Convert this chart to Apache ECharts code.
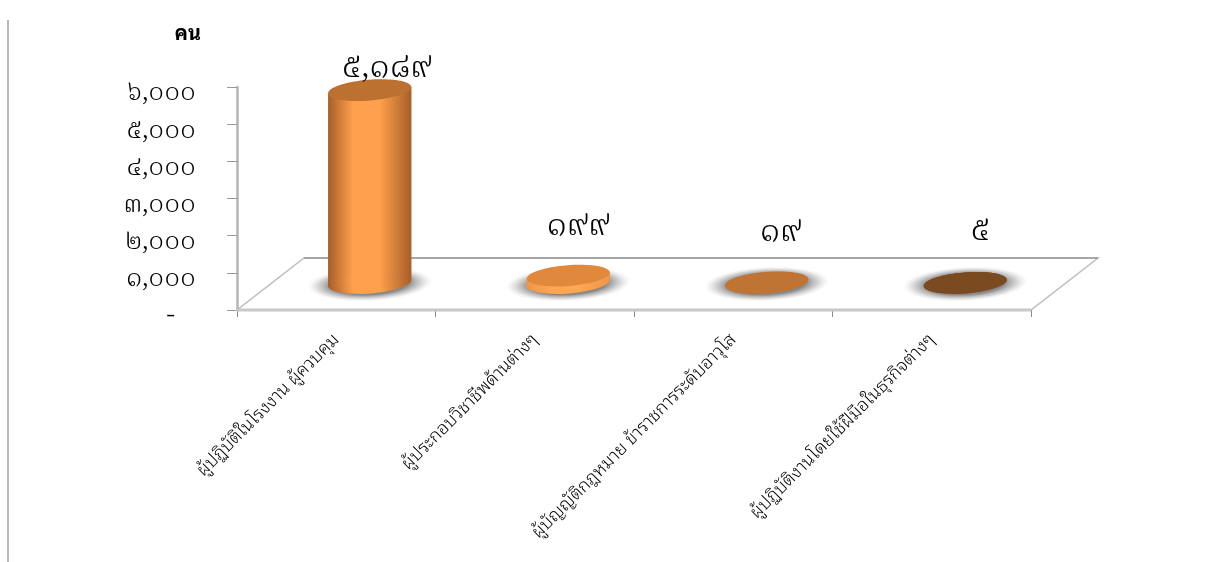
<!DOCTYPE html>
<html><head><meta charset="utf-8">
<style>html,body{margin:0;padding:0;background:#fff}#c{width:1206px;height:562px}</style>
<script src="https://cdn.jsdelivr.net/npm/echarts@6/dist/echarts.min.js"></script>
</head><body><div id="c"></div>
<script>
const categories = [
  'ผู้ปฏิบัติในโรงงาน ผู้ควบคุม',
  'ผู้ประกอบวิชาชีพด้านต่างๆ',
  'ผู้บัญญัติกฎหมาย ข้าราชการระดับอาวุโส',
  'ผู้ปฏิบัติงานโดยใช้ฝีมือในธุรกิจต่างๆ'
];
const workers = [5189, 199, 19, 5];
const yTicks = { 0:'-\u00a0\u00a0\u00a0', 1000:'๑,๐๐๐', 2000:'๒,๐๐๐', 3000:'๓,๐๐๐', 4000:'๔,๐๐๐', 5000:'๕,๐๐๐', 6000:'๖,๐๐๐' };
const valueText = ['๕,๑๘๙', '๑๙๙', '๑๙', '๕'];
const unitName = 'คน';

// appearance of each cylinder: side shading, top-face colour, label nudge
const barLook = [
  { edge:'#a65e28', mid:'#ffa04c', top:'#bd7131', dx:17, lift:19 },
  { edge:'#f09648', mid:'#ffa651', top:'#e0893d', dx:10, lift:46 },
  { edge:'#bf7433', mid:'#bf7433', top:'#bf7433', dx:14, lift:47 },
  { edge:'#7a4a20', mid:'#7a4a20', top:'#7a4a20', dx:15, lift:48 }
];
const DEPTH_X = 67, DEPTH_Y = 52;     // skew of the 3D floor
const TILT = 4.5 * Math.PI / 180;     // tilt of the elliptical faces
const DIGIT_FONT = '"Noto Serif Thai","Noto Sans",serif';
const LABEL_FONT = '"Noto Sans Thai Looped","Noto Sans Thai","Noto Sans",sans-serif';

function floorItem(params, api) {
  const g = params.coordSys;
  const x0 = g.x, x1 = g.x + g.width, y0 = g.y + g.height;
  return { type:'group', silent:true, children:[
    { type:'polygon', shape:{points:[[x0,y0],[x1,y0],[x1+DEPTH_X,y0-DEPTH_Y],[x0+DEPTH_X,y0-DEPTH_Y]]},
      style:{fill:'#ffffff', stroke:'#bdbdbd', lineWidth:1.5} },
    { type:'line', shape:{x1:x0+DEPTH_X,y1:y0-DEPTH_Y,x2:x1+DEPTH_X,y2:y0-DEPTH_Y},
      style:{stroke:'#a6a6a6', lineWidth:2} },
    { type:'line', shape:{x1:x0,y1:y0,x2:x1,y2:y0},
      style:{stroke:'#c8c8c8', lineWidth:3} }
  ]};
}

function cylinderItem(params, api) {
  const i = api.value(0), v = api.value(1);
  const look = barLook[i];
  const base = api.coord([i, 0]), top = api.coord([i, v]);
  const band = api.size([1, 0])[0];
  const rx = band * 0.21, ry = rx * 0.25;
  const cx = base[0] + DEPTH_X / 2, by = base[1] - DEPTH_Y / 2 - 1;
  const ty = top[1] - DEPTH_Y / 2 - 1;
  const d = rx * Math.sin(TILT);
  const shade = new echarts.graphic.RadialGradient(0.5,0.5,0.5,[
    {offset:0,color:'rgba(110,110,110,0.9)'},{offset:0.62,color:'rgba(115,115,115,0.85)'},
    {offset:0.82,color:'rgba(160,160,160,0.45)'},{offset:1,color:'rgba(210,210,210,0)'}]);
  const side = new echarts.graphic.LinearGradient(0,0,1,0,[
    {offset:0,color:look.edge},{offset:0.3,color:look.mid},{offset:0.62,color:look.mid},{offset:1,color:look.edge}]);
  return { type:'group', silent:true, children:[
    { type:'circle', x:cx, y:by+1, scaleX:rx*1.5/20, scaleY:ry*1.65/20, rotation:TILT*0.6,
      shape:{cx:0, cy:0, r:20}, style:{fill:shade} },
    { type:'polygon', shape:{points:[[cx-rx,ty+d],[cx+rx,ty-d],[cx+rx,by-d],[cx-rx,by+d]]}, style:{fill:side} },
    { type:'ellipse', x:cx, y:by, rotation:TILT, shape:{cx:0, cy:0, rx:rx, ry:ry}, style:{fill:side} },
    { type:'ellipse', x:cx, y:ty, rotation:TILT, shape:{cx:0, cy:0, rx:rx, ry:ry}, style:{fill:look.top} },
    { type:'text', x:cx+look.dx, y:ty-look.lift,
      style:{text:valueText[i], font:'300 34px '+DIGIT_FONT, fill:'#000', align:'center', verticalAlign:'middle'} }
  ]};
}

const chart = echarts.init(document.getElementById('c'));
chart.setOption({
  animation:false,
  backgroundColor:'#fff',
  grid:{left:237, top:87, width:794, height:223, containLabel:false},
  graphic:[{type:'line', shape:{x1:8,y1:20,x2:8,y2:562}, style:{stroke:'#a0a0a0',lineWidth:1.5}}],
  xAxis:{type:'category', data:categories,
    axisLine:{lineStyle:{color:'#bbb',width:1}},
    axisTick:{show:true,length:7,lineStyle:{color:'#888'}},
    axisLabel:{rotate:45, interval:0, color:'#000', fontFamily:LABEL_FONT, fontWeight:300, fontSize:18, margin:27}},
  yAxis:{type:'value', min:0, max:6000, interval:1000, name:unitName,
    nameLocation:'end', nameGap:43,
    nameTextStyle:{color:'#000',fontWeight:'bold',fontSize:20,fontFamily:LABEL_FONT,align:'right',padding:[0,36,0,0]},
    splitLine:{show:false},
    axisLine:{show:true,lineStyle:{color:'#b5b5b5',width:2.5}},
    axisTick:{show:true,length:10,lineStyle:{color:'#999'}},
    axisLabel:{color:'#000',fontFamily:DIGIT_FONT,fontWeight:300,fontSize:27,margin:41,verticalAlign:'top',lineHeight:18,formatter:v=>yTicks[v]}},
  series:[
    {type:'custom', coordinateSystem:'cartesian2d', renderItem:floorItem, data:[[0,0]], z:1},
    {type:'custom', coordinateSystem:'cartesian2d', renderItem:cylinderItem, z:2,
     data:workers.map((v,i)=>[i,v]), encode:{x:0,y:1}}
  ]
});
</script></body></html>
